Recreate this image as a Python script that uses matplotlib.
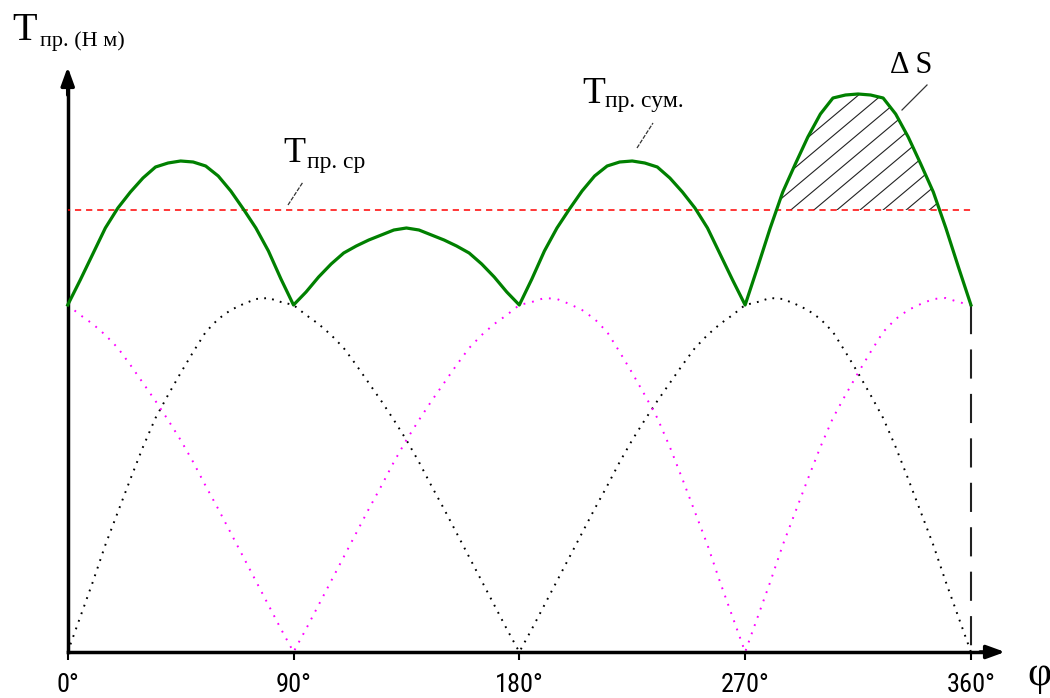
import matplotlib.pyplot as plt
import numpy as np

# угол поворота, град
phi = np.arange(0, 365, 5)

# момент первого цилиндра (чёрные точки)
t_1 = [0, 35, 70, 107, 140, 173, 205, 234, 257, 279, 300, 320, 333, 342, 348, 353, 354, 350,
       347, 337, 328, 317, 304, 287, 269, 251, 232, 212, 190, 166, 143, 119, 95, 71, 47, 23,
       0, 23, 47, 71, 95, 119, 143, 166, 190, 212, 232, 251, 269, 287, 304, 317, 328, 337,
       347, 350, 354, 353, 348, 342, 333, 320, 300, 279, 257, 234, 205, 173, 140, 107, 70, 35, 0]

# момент второго цилиндра (розовые точки)
t_2 = [347, 337, 328, 317, 304, 287, 269, 251, 232, 212, 190, 166, 143, 119, 95, 71, 47, 23,
       0, 23, 47, 71, 95, 119, 143, 166, 190, 212, 232, 251, 269, 287, 304, 317, 328, 337,
       347, 350, 354, 353, 348, 342, 333, 320, 300, 279, 257, 234, 205, 173, 140, 107, 70, 35,
       0, 35, 70, 107, 140, 173, 205, 234, 257, 279, 300, 320, 333, 342, 348, 353, 354, 350, 347]

# суммарный момент
t_sum = [347, 372, 398, 424, 444, 460, 474, 485, 489, 491, 490, 486, 476, 461, 443, 424, 401, 373,
         347, 360, 375, 388, 399, 406, 412, 417, 422, 424, 422, 417, 412, 406, 399, 388, 375, 360,
         347, 373, 401, 424, 443, 461, 476, 486, 490, 491, 489, 485, 474, 460, 444, 424, 398, 372,
         347, 385, 424, 460, 488, 515, 538, 554, 557, 558, 557, 554, 538, 515, 488, 460, 424, 385, 347]

t_mean = 442

x_ticks = [0, 90, 180, 270, 360]
x_labels = ["0°", "90°", "180°", "270°", "360°"]

W, H = 1050, 698
X0, KX, Y0 = 67.7, 2.509, 652


def px(x, y):
    # пиксели картинки -> координаты данных
    return (x - X0) / KX, Y0 - y


plt.rcParams["lines.scale_dashes"] = False
serif = ["Liberation Serif", "DejaVu Serif"]

fig = plt.figure(figsize=(W / 100, H / 100), dpi=100)
ax = fig.add_axes([0, 0, 1, 1])
ax.set_xlim(px(0, 0)[0], px(W, 0)[0])
ax.set_ylim(px(0, H)[1], px(0, 0)[1])

for s in ["top", "right"]:
    ax.spines[s].set_visible(False)
ax.spines["left"].set_position(("data", 0))
ax.spines["bottom"].set_position(("data", 0))
ax.spines["left"].set_bounds(0, px(0, 80)[1])
ax.spines["bottom"].set_bounds(0, px(995, 0)[0])
ax.spines["left"].set_linewidth(2.5)
ax.spines["bottom"].set_linewidth(2.5)
ax.set_yticks([])
ax.set_xticks(x_ticks, x_labels)
ax.tick_params(axis="x", direction="out", length=6, width=1.5, pad=9, labelsize=19)
for lbl in ax.get_xticklabels():
    lbl.set_fontfamily(["Roboto Condensed", "Liberation Sans Narrow", "DejaVu Sans"])
    lbl.set_fontstretch("condensed")

arrow = dict(arrowstyle="-|>,head_length=1.1,head_width=0.4", color="k", lw=2.5,
             shrinkA=0, shrinkB=0)
ax.annotate("", xy=px(1005, Y0), xytext=px(980, Y0), arrowprops=arrow)
ax.annotate("", xy=px(X0, 67), xytext=px(X0, 95), arrowprops=arrow)

ax.plot(phi, t_1, color="black", lw=1.4, ls=(0, (1.3, 4.5)))
ax.plot(phi, t_2, color="#ff00ff", lw=1.4, ls=(0, (1.3, 5)))
ax.plot([0, 360], [t_mean, t_mean], color="#ff0000", lw=1.1, ls=(3, (4.5, 3.5)), zorder=3)
ax.plot([360, 360], [t_sum[-1], 0], color="#222222", lw=1.5, ls=(0, (21, 11)))
ax.plot(phi, t_sum, color="#008000", lw=2.3, zorder=4)

# штриховка ΔS
g = np.array(t_sum)
area = ax.fill_between(phi, g, t_mean, where=(g > t_mean) & (phi > 270), interpolate=True,
                       facecolor="none", edgecolor="none")
clip = area.get_paths()[0]
k = np.tan(np.radians(40)) * KX
for x0 in np.arange(288.2 - 9.2 * 6, 345, 9.2):
    xs = np.array([x0, x0 + 80])
    ln, = ax.plot(xs, t_mean + k * (xs - x0), color="#222222", lw=0.8, zorder=2)
    ln.set_clip_path(clip, ax.transData)


def label(x, y, s, size, family=serif):
    fig.text(x / W, 1 - y / H, s, fontsize=size, family=family, va="baseline")


def leader(p1, p2, ls="-"):
    (xa, ya), (xb, yb) = px(*p1), px(*p2)
    ax.plot([xa, xb], [ya, yb], color="#333333", lw=0.9, ls=ls)


label(12, 40, "T", 29)
label(40, 46, "пр. (Н м)", 16)
label(582, 103, "T", 27)
label(605, 107, "пр. сум.", 17)
label(283, 162, "T", 26)
label(307, 168, "пр. ср", 17)
label(890, 73, "Δ S", 22)
label(1027, 685, "φ", 30)

leader((288, 205), (303, 182), (0, (3, 1)))
leader((637, 148), (653, 123), (0, (3, 1)))
leader((902, 110), (927, 85))

fig.savefig("out.png", dpi=100)
